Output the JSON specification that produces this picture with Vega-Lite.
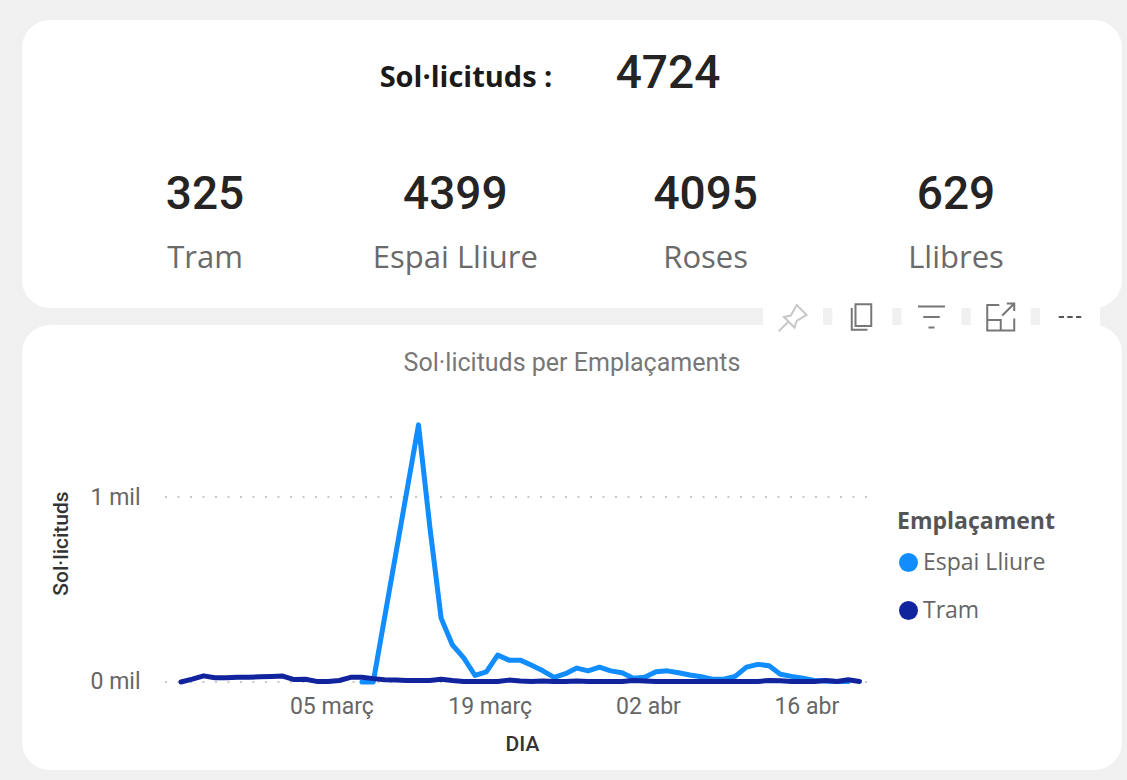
{
"$schema":"https://vega.github.io/schema/vega-lite/v6.json",
"background":"#f0f0f0",
"padding":{"left":22,"top":20,"right":5,"bottom":10},
"spacing":17,
"bounds":"flush",
"config":{"view":{"fill":"white","stroke":null,"cornerRadius":28},"concat":{"spacing":17}},
"datasets":{
"kpi":[{"nom":"Tram","valor":325},{"nom":"Espai Lliure","valor":4399},{"nom":"Roses","valor":4095},{"nom":"Llibres","valor":629}],
"total":[{"nom":"Sol·licituds :","valor":4724}],
"eixos":[{"inici":"2024-02-18T14:00:00","fi":"2024-04-21T08:00:00","valor":0},{"inici":"2024-02-18T14:00:00","fi":"2024-04-21T08:00:00","valor":1000}],
"eines":[{"eina":"pin"},{"eina":"copy"},{"eina":"filter"},{"eina":"focus"},{"eina":"more"}],
"serie":[
{"DIA":"2024-03-07T00:00:00","e":"Espai Lliure","v":0},{"DIA":"2024-03-08T00:00:00","e":"Espai Lliure","v":0},
{"DIA":"2024-03-12T00:00:00","e":"Espai Lliure","v":1390},{"DIA":"2024-03-13T00:00:00","e":"Espai Lliure","v":840},{"DIA":"2024-03-14T00:00:00","e":"Espai Lliure","v":345},{"DIA":"2024-03-15T00:00:00","e":"Espai Lliure","v":200},{"DIA":"2024-03-16T00:00:00","e":"Espai Lliure","v":130},{"DIA":"2024-03-17T00:00:00","e":"Espai Lliure","v":35},{"DIA":"2024-03-18T00:00:00","e":"Espai Lliure","v":55},{"DIA":"2024-03-19T00:00:00","e":"Espai Lliure","v":145},{"DIA":"2024-03-20T00:00:00","e":"Espai Lliure","v":118},{"DIA":"2024-03-21T00:00:00","e":"Espai Lliure","v":118},{"DIA":"2024-03-22T00:00:00","e":"Espai Lliure","v":90},{"DIA":"2024-03-23T00:00:00","e":"Espai Lliure","v":60},{"DIA":"2024-03-24T00:00:00","e":"Espai Lliure","v":25},{"DIA":"2024-03-25T00:00:00","e":"Espai Lliure","v":45},{"DIA":"2024-03-26T00:00:00","e":"Espai Lliure","v":75},{"DIA":"2024-03-27T00:00:00","e":"Espai Lliure","v":60},{"DIA":"2024-03-28T00:00:00","e":"Espai Lliure","v":80},{"DIA":"2024-03-29T00:00:00","e":"Espai Lliure","v":60},{"DIA":"2024-03-30T00:00:00","e":"Espai Lliure","v":50},{"DIA":"2024-03-31T00:00:00","e":"Espai Lliure","v":20},{"DIA":"2024-04-01T00:00:00","e":"Espai Lliure","v":25},{"DIA":"2024-04-02T00:00:00","e":"Espai Lliure","v":55},{"DIA":"2024-04-03T00:00:00","e":"Espai Lliure","v":60},{"DIA":"2024-04-04T00:00:00","e":"Espai Lliure","v":50},{"DIA":"2024-04-05T00:00:00","e":"Espai Lliure","v":38},{"DIA":"2024-04-06T00:00:00","e":"Espai Lliure","v":28},{"DIA":"2024-04-07T00:00:00","e":"Espai Lliure","v":15},{"DIA":"2024-04-08T00:00:00","e":"Espai Lliure","v":15},{"DIA":"2024-04-09T00:00:00","e":"Espai Lliure","v":30},{"DIA":"2024-04-10T00:00:00","e":"Espai Lliure","v":80},{"DIA":"2024-04-11T00:00:00","e":"Espai Lliure","v":95},{"DIA":"2024-04-12T00:00:00","e":"Espai Lliure","v":88},{"DIA":"2024-04-13T00:00:00","e":"Espai Lliure","v":42},{"DIA":"2024-04-14T00:00:00","e":"Espai Lliure","v":30},{"DIA":"2024-04-15T00:00:00","e":"Espai Lliure","v":20},{"DIA":"2024-04-16T00:00:00","e":"Espai Lliure","v":8},{"DIA":"2024-04-17T00:00:00","e":"Espai Lliure","v":5},{"DIA":"2024-04-18T00:00:00","e":"Espai Lliure","v":3},{"DIA":"2024-04-19T00:00:00","e":"Espai Lliure","v":2},
{"DIA":"2024-02-20T00:00:00","e":"Tram","v":0},{"DIA":"2024-02-21T00:00:00","e":"Tram","v":15},{"DIA":"2024-02-22T00:00:00","e":"Tram","v":33},{"DIA":"2024-02-23T00:00:00","e":"Tram","v":23},{"DIA":"2024-02-24T00:00:00","e":"Tram","v":23},{"DIA":"2024-02-25T00:00:00","e":"Tram","v":25},{"DIA":"2024-02-26T00:00:00","e":"Tram","v":25},{"DIA":"2024-02-27T00:00:00","e":"Tram","v":28},{"DIA":"2024-02-28T00:00:00","e":"Tram","v":30},{"DIA":"2024-02-29T00:00:00","e":"Tram","v":32},{"DIA":"2024-03-01T00:00:00","e":"Tram","v":13},{"DIA":"2024-03-02T00:00:00","e":"Tram","v":15},{"DIA":"2024-03-03T00:00:00","e":"Tram","v":3},{"DIA":"2024-03-04T00:00:00","e":"Tram","v":2},{"DIA":"2024-03-05T00:00:00","e":"Tram","v":8},{"DIA":"2024-03-06T00:00:00","e":"Tram","v":25},{"DIA":"2024-03-07T00:00:00","e":"Tram","v":25},{"DIA":"2024-03-08T00:00:00","e":"Tram","v":18},{"DIA":"2024-03-09T00:00:00","e":"Tram","v":12},{"DIA":"2024-03-10T00:00:00","e":"Tram","v":10},{"DIA":"2024-03-11T00:00:00","e":"Tram","v":8},{"DIA":"2024-03-12T00:00:00","e":"Tram","v":8},{"DIA":"2024-03-13T00:00:00","e":"Tram","v":8},{"DIA":"2024-03-14T00:00:00","e":"Tram","v":15},{"DIA":"2024-03-15T00:00:00","e":"Tram","v":8},{"DIA":"2024-03-16T00:00:00","e":"Tram","v":3},{"DIA":"2024-03-17T00:00:00","e":"Tram","v":3},{"DIA":"2024-03-18T00:00:00","e":"Tram","v":2},{"DIA":"2024-03-19T00:00:00","e":"Tram","v":2},{"DIA":"2024-03-20T00:00:00","e":"Tram","v":10},{"DIA":"2024-03-21T00:00:00","e":"Tram","v":5},{"DIA":"2024-03-22T00:00:00","e":"Tram","v":3},{"DIA":"2024-03-23T00:00:00","e":"Tram","v":5},{"DIA":"2024-03-24T00:00:00","e":"Tram","v":3},{"DIA":"2024-03-25T00:00:00","e":"Tram","v":3},{"DIA":"2024-03-26T00:00:00","e":"Tram","v":5},{"DIA":"2024-03-27T00:00:00","e":"Tram","v":3},{"DIA":"2024-03-28T00:00:00","e":"Tram","v":3},{"DIA":"2024-03-29T00:00:00","e":"Tram","v":2},{"DIA":"2024-03-30T00:00:00","e":"Tram","v":3},{"DIA":"2024-03-31T00:00:00","e":"Tram","v":8},{"DIA":"2024-04-01T00:00:00","e":"Tram","v":5},{"DIA":"2024-04-02T00:00:00","e":"Tram","v":3},{"DIA":"2024-04-03T00:00:00","e":"Tram","v":3},{"DIA":"2024-04-04T00:00:00","e":"Tram","v":2},{"DIA":"2024-04-05T00:00:00","e":"Tram","v":2},{"DIA":"2024-04-06T00:00:00","e":"Tram","v":3},{"DIA":"2024-04-07T00:00:00","e":"Tram","v":2},{"DIA":"2024-04-08T00:00:00","e":"Tram","v":2},{"DIA":"2024-04-09T00:00:00","e":"Tram","v":2},{"DIA":"2024-04-10T00:00:00","e":"Tram","v":2},{"DIA":"2024-04-11T00:00:00","e":"Tram","v":3},{"DIA":"2024-04-12T00:00:00","e":"Tram","v":8},{"DIA":"2024-04-13T00:00:00","e":"Tram","v":6},{"DIA":"2024-04-14T00:00:00","e":"Tram","v":2},{"DIA":"2024-04-15T00:00:00","e":"Tram","v":2},{"DIA":"2024-04-16T00:00:00","e":"Tram","v":2},{"DIA":"2024-04-17T00:00:00","e":"Tram","v":8},{"DIA":"2024-04-18T00:00:00","e":"Tram","v":3},{"DIA":"2024-04-19T00:00:00","e":"Tram","v":12},{"DIA":"2024-04-20T00:00:00","e":"Tram","v":3}
]},
"vconcat":[
{"width":1100,"height":288,
 "encoding":{"y":{"datum":"valor","type":"nominal","scale":{"type":"point","padding":0,"domain":["capçalera","buit","valor","etiqueta"],"range":[52,237]},"axis":null}},
 "resolve":{"scale":{"x":"independent"}},
 "layer":[
  {"data":{"name":"kpi"},"mark":{"type":"text","font":"Roboto","fontWeight":500,"fontSize":46,"fill":"#252423","baseline":"middle"},
   "encoding":{"x":{"field":"nom","type":"nominal","sort":null,"scale":{"type":"point","padding":0,"domain":["Tram","Espai Lliure","Roses","Llibres"],"range":[183,934]},"axis":null},"text":{"field":"valor","type":"quantitative","format":"d"}}},
  {"data":{"name":"kpi"},"mark":{"type":"text","font":"Open Sans","fontSize":31,"fill":"#6a6a6a","baseline":"middle","yOffset":2},
   "encoding":{"x":{"field":"nom","type":"nominal","sort":null,"scale":{"type":"point","padding":0,"domain":["Tram","Espai Lliure","Roses","Llibres"],"range":[183,934]},"axis":null},"y":{"datum":"etiqueta","type":"nominal"},"text":{"field":"nom"}}},
  {"data":{"name":"total"},"mark":{"type":"text","font":"Open Sans","fontWeight":"bold","fontSize":29,"fill":"#1a1a1a","baseline":"middle","yOffset":6},
   "encoding":{"x":{"datum":"rètol","type":"nominal","scale":{"type":"point","padding":0,"domain":["rètol","xifra"],"range":[444,646]},"axis":null},"y":{"datum":"capçalera","type":"nominal"},"text":{"field":"nom"}}},
  {"data":{"name":"total"},"mark":{"type":"text","font":"Roboto","fontWeight":500,"fontSize":46,"fill":"#252423","baseline":"middle","yOffset":2},
   "encoding":{"x":{"datum":"xifra","type":"nominal","scale":{"type":"point","padding":0,"domain":["rètol","xifra"],"range":[444,646]},"axis":null},"y":{"datum":"capçalera","type":"nominal"},"text":{"field":"valor","type":"quantitative","format":"d"}}}
 ]},
{"width":1100,"height":445,
 "title":{"text":"Sol·licituds per Emplaçaments","font":"Roboto","fontSize":25,"fontWeight":"normal","color":"#777777","anchor":"middle","frame":"group","offset":-89},
 "resolve":{"scale":{"x":"independent"}},
 "layer":[
  {"data":{"name":"eixos"},"mark":{"type":"rule","stroke":"#c8c8c8","strokeWidth":2,"strokeDash":[2,10.5]},
   "encoding":{"x":{"field":"inici","type":"temporal","scale":{"domain":["2024-02-05T22:34:00","2024-05-13T05:00:00"]},"axis":{"title":"DIA","values":[{"year":2024,"month":3,"date":5},{"year":2024,"month":3,"date":19},{"year":2024,"month":4,"date":2},{"year":2024,"month":4,"date":16}],"labelExpr":"timeFormat(datum.value,'%d')+(month(datum.value)==2?' març':' abr')","offset":-75,"domain":false,"ticks":false,"grid":false,"labelPadding":0,"labelBaseline":"top","labelOffset":-8,"labelFont":"Roboto","labelFontSize":23,"labelColor":"#666666","titleFont":"Roboto","titleFontSize":21,"titleFontWeight":500,"titleColor":"#333333","titleX":500,"titleY":38,"labelFlush":false}},"x2":{"field":"fi"},
    "y":{"field":"valor","type":"quantitative","scale":{"domain":[-476,1930],"nice":false,"zero":false},"axis":{"title":"Sol·licituds","values":[0,1000],"labelExpr":"datum.value/1000+' mil'","offset":-118,"domain":false,"ticks":false,"grid":false,"labelPadding":0,"labelFont":"Roboto","labelFontSize":23,"labelColor":"#666666","titleFont":"Roboto","titleFontSize":21,"titleFontWeight":500,"titleColor":"#333333","titleX":-69,"titleY":218}}}},
  {"data":{"name":"serie"},"mark":{"type":"line","strokeWidth":5,"strokeJoin":"round","strokeCap":"round"},
   "encoding":{"x":{"field":"DIA","type":"temporal","scale":{"domain":["2024-02-05T22:34:00","2024-05-13T05:00:00"]},"axis":null},"y":{"field":"v","type":"quantitative"},
    "color":{"field":"e","type":"nominal","scale":{"domain":["Espai Lliure","Tram"],"range":["#118dff","#12239e"]},
     "legend":{"title":"Emplaçament","orient":"none","legendX":875,"legendY":491,"symbolType":"circle","symbolSize":360,"symbolStrokeWidth":0,"rowPadding":24,"titlePadding":17,"titleFont":"Open Sans","titleFontSize":23,"titleFontWeight":"bold","titleColor":"#555555","labelFont":"Open Sans","labelFontSize":23,"labelColor":"#666666","labelOffset":3,
      "encode":{"symbols":{"update":{"fill":{"field":"value","scale":"color"}}}}}}}},
  {"data":{"name":"eines"},"mark":{"type":"point","shape":"square","filled":true,"fill":"white","size":3600,"opacity":1},
   "encoding":{"x":{"field":"eina","type":"nominal","sort":null,"scale":{"type":"point","padding":0,"domain":["pin","copy","filter","focus","more"],"range":[771,1048]},"axis":null},"y":{"datum":1973}}},
  {"data":{"name":"eines"},"mark":{"type":"point","filled":false,"size":900,"strokeWidth":2,"opacity":1},
   "encoding":{"x":{"field":"eina","type":"nominal","sort":null,"scale":{"type":"point","padding":0,"domain":["pin","copy","filter","focus","more"],"range":[771,1048]},"axis":null},"y":{"datum":1973},
    "shape":{"field":"eina","type":"nominal","legend":null,"scale":{"domain":["pin","copy","filter","focus","more"],"range":["M-0.95,0.95L-0.3,0.3M-0.6,0L-0.15,-0.1L0.25,-0.8L0.9,-0.15L0.25,0.25L0.1,0.7Z","M-0.45,-0.85H0.6V0.6H-0.45ZM-0.7,-0.6V0.85H0.35","M-0.9,-0.7H0.9M-0.55,0H0.55M-0.2,0.7H0.2","M-0.1,-0.8H-0.9V0.9H0.9V0.1M-0.9,0.2H0V0.9M0.1,-0.1L0.9,-0.9M0.4,-0.9H0.9V-0.4","M-0.75,0H-0.4M-0.18,0H0.18M0.4,0H0.75"]}},
    "stroke":{"field":"eina","type":"nominal","legend":null,"scale":{"domain":["pin","copy","filter","focus","more"],"range":["#c8c8c8","#777777","#777777","#777777","#555555"]}}}}
 ]}
]}
